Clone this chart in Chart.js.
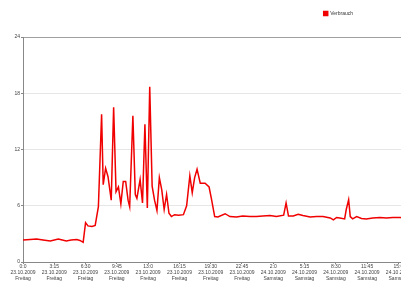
<!DOCTYPE html>
<html>
<head>
<meta charset="utf-8">
<script src="https://cdn.jsdelivr.net/npm/chart.js@4"></script>
<style>
    html, body { margin: 0; padding: 0; background: #fff; overflow: hidden; }
    canvas { display: block; }
</style>
</head>
<body>
<canvas id="verbrauchChart" width="412" height="282"></canvas>
<script>
// minutes since 23.10.2009 0:00
const minutes = [
    0, 45, 85, 125, 170, 195, 220, 245, 270, 300,
    335, 355, 375, 390, 405, 430, 450, 470, 490, 500,
    515, 530, 550, 565, 580, 595, 610, 625, 640, 655,
    665, 685, 700, 710, 730, 745, 760, 775, 790, 805,
    820, 835, 850, 865, 880, 895, 910, 925, 945, 970,
    1000, 1020, 1040, 1055, 1070, 1085, 1105, 1135, 1160, 1175,
    1195, 1215, 1260, 1290, 1330, 1370, 1415, 1455, 1495, 1540,
    1580, 1625, 1640, 1655, 1685, 1715, 1745, 1790, 1830, 1870,
    1915, 1935, 1955, 1975, 2005, 2015, 2030, 2040, 2055, 2080,
    2110, 2140, 2180, 2225, 2265, 2305, 2350, 2400
];
const verbrauch = [
    2.35, 2.4, 2.45, 2.35, 2.25, 2.35, 2.45, 2.35, 2.25, 2.35,
    2.4, 2.3, 2.1, 4.2, 3.85, 3.8, 3.9, 5.9, 15.75, 8.25,
    10.0, 9.1, 6.6, 16.5, 7.5, 8.0, 6.2, 8.6, 8.6, 6.6,
    5.9, 15.6, 7.2, 6.8, 8.8, 6.3, 14.7, 5.75, 18.7, 8.1,
    6.6, 5.5, 9.0, 7.7, 5.6, 7.2, 5.2, 4.85, 5.05, 5.0,
    5.05, 6.0, 9.2, 7.4, 9.0, 9.9, 8.4, 8.4, 8.0, 6.7,
    4.85, 4.8, 5.15, 4.85, 4.8, 4.9, 4.85, 4.85, 4.9, 4.95,
    4.85, 5.0, 6.3, 4.9, 4.9, 5.1, 4.95, 4.8, 4.85, 4.85,
    4.7, 4.5, 4.75, 4.7, 4.6, 5.6, 6.65, 4.85, 4.6, 4.85,
    4.65, 4.6, 4.7, 4.75, 4.7, 4.75, 4.75, 4.7
];

// x tick labels, one every 3:15 h
const tickStep = 195;
const timeLabels = ['0:0', '3:15', '6:30', '9:45', '13:0', '16:15', '19:30', '22:45', '2:0', '5:15', '8:30', '11:45', '15:0'];
const dateLabels = ['23.10.2009', '23.10.2009', '23.10.2009', '23.10.2009', '23.10.2009', '23.10.2009', '23.10.2009', '23.10.2009',
    '24.10.2009', '24.10.2009', '24.10.2009', '24.10.2009', '24.10.2009'];
const dayLabels = ['Freitag', 'Freitag', 'Freitag', 'Freitag', 'Freitag', 'Freitag', 'Freitag', 'Freitag',
    'Samstag', 'Samstag', 'Samstag', 'Samstag', 'Samstag'];
const yTicks = [0, 6, 12, 18, 24];

const points = minutes.map((m, i) => ({ x: m, y: verbrauch[i] }));
const font = { family: 'Liberation Sans', size: 5 };

// push the plot down below the legend
const legendSpace = {
    id: 'legendSpace',
    beforeInit(chart) {
        const fit = chart.legend.fit;
        chart.legend.fit = function () {
            fit.bind(chart.legend)();
            this.height = 37;
        };
    },
    afterLayout(chart) {
        chart.legend.right = 364; // legend sits right of centre
    }
};

const ctx = document.getElementById('verbrauchChart').getContext('2d');
new Chart(ctx, {
    type: 'line',
    data: {
        datasets: [{
            label: 'Verbrauch',
            data: points,
            borderColor: '#f00000',
            backgroundColor: '#f00000',
            borderWidth: 1.5,
            pointRadius: 0,
            tension: 0,
            fill: false
        }]
    },
    options: {
        responsive: false,
        animation: false,
        layout: { padding: { top: 0, right: 4, bottom: 0, left: 0 } },
        plugins: {
            legend: {
                align: 'end',
                labels: {
                    boxWidth: 4,
                    boxHeight: 4,
                    padding: 11,
                    color: '#333',
                    font: font
                }
            },
            tooltip: { enabled: false }
        },
        scales: {
            x: {
                type: 'linear',
                min: 0,
                max: 2400,
                afterFit: (scale) => { scale.height = 20; },
                afterBuildTicks: (scale) => {
                    scale.ticks = timeLabels.map((t, i) => ({ value: i * tickStep }));
                },
                ticks: {
                    autoSkip: false,
                    maxRotation: 0,
                    padding: 0,
                    color: '#444',
                    font: { family: 'Liberation Sans', size: 5, lineHeight: 1.2 },
                    callback: function (value) {
                        const i = Math.round(value / tickStep);
                        if (i * tickStep !== value || i >= timeLabels.length) return '';
                        return [timeLabels[i], dateLabels[i], dayLabels[i]];
                    }
                },
                grid: {
                    drawOnChartArea: false,
                    drawTicks: true,
                    tickLength: 2,
                    tickColor: '#888'
                },
                border: { color: '#888', width: 1 }
            },
            y: {
                min: 0,
                max: 24,
                afterFit: (scale) => { scale.width = 23; },
                afterBuildTicks: (scale) => {
                    scale.ticks = yTicks.map(v => ({ value: v }));
                },
                ticks: {
                    padding: 1,
                    color: '#444',
                    font: font
                },
                grid: {
                    color: function (context) {
                        if (context.tick && context.tick.value === 24) return '#a0a0a0';
                        return '#e6e6e6';
                    },
                    lineWidth: 1,
                    tickLength: 2,
                    tickColor: '#888'
                },
                border: { color: '#888', width: 1 }
            }
        }
    },
    plugins: [legendSpace]
});
</script>
</body>
</html>
